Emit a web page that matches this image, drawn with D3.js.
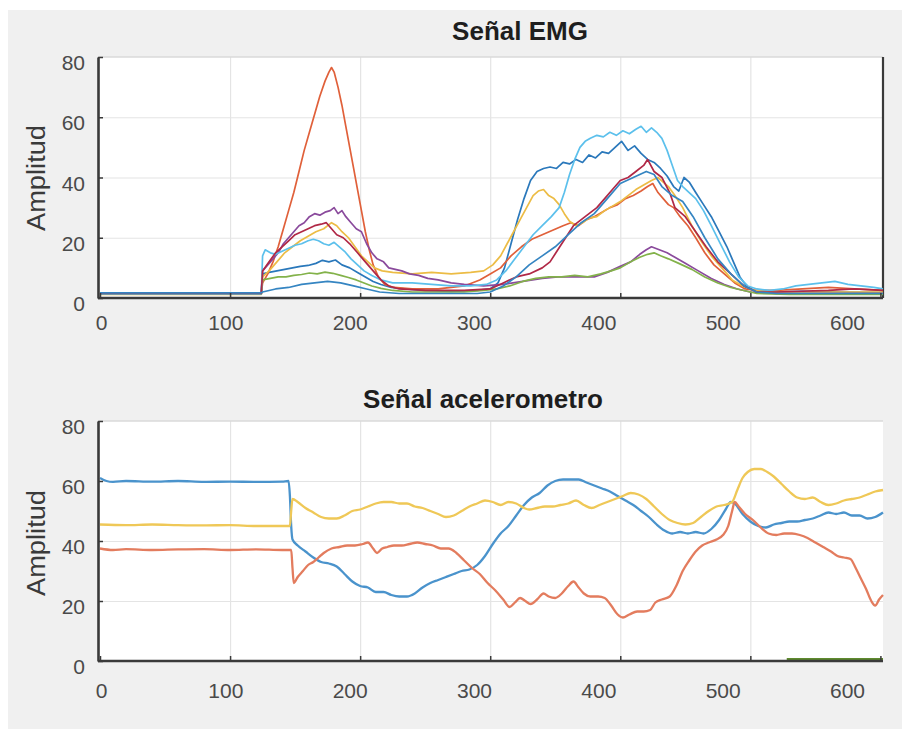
<!DOCTYPE html>
<html>
<head>
<meta charset="utf-8">
<script src="https://cdn.jsdelivr.net/npm/d3@7"></script>
<style>
  body { margin: 0; background: #fff; }
  text { font-family: "Liberation Sans", Arial, sans-serif; }
</style>
</head>
<body>
<div id="canvas"></div>
<script>
// tick values
var xTickVals = [0, 100, 200, 300, 400, 500, 600];
var yTickVals = [0, 20, 40, 60, 80];

// EMG series, [sample, amplitude]
var emgBlue1 = [[0,1.6],[124,1.6],[125,8],[130,8.5],[136,9],[142,9.5],[148,10],[154,10.5],[160,10.8],[166,11.5],[171,12.5],[176,12],[181,12.6],[186,11],[192,10],[198,8.5],[204,7],[210,5.5],[216,4.5],[224,3.5],[234,3],[250,2.5],[270,2.2],[290,2.5],[300,3],[306,5],[311,10],[316,18],[321,26],[326,33],[331,39],[336,42],[341,43],[346,43.5],[351,43],[356,45],[361,44.5],[366,46],[371,45],[376,47.5],[381,46.5],[386,48.5],[391,48],[396,50],[401,52],[406,49],[411,50.5],[416,48],[421,46],[426,45],[431,43],[436,40.5],[441,37],[445,35.5],[449,40],[453,38.5],[458,35],[464,31],[470,27],[476,22],[482,17],[487,12],[492,7],[497,4],[503,2.5],[515,2],[540,2.2],[570,2],[602,1.8]];
var emgOrange = [[0,1.4],[124,1.4],[125,5],[129,8],[133,12],[137,17],[141,23],[145,29],[149,35],[153,42],[157,49],[161,55],[165,61],[169,67],[173,72],[176,75],[178,76.5],[180,75],[183,70],[186,64],[189,57],[192,50],[195,43],[198,36],[201,29],[204,22],[207,16],[210,11],[214,7],[219,4.5],[226,3.5],[240,3],[260,3],[280,4],[292,6],[300,8],[308,10],[316,14],[324,17],[332,19.5],[340,21],[348,22.5],[356,24],[362,25],[368,24],[374,26],[380,27],[386,28.5],[392,30],[398,31],[404,33],[410,34],[416,35.5],[421,37],[425,38],[429,35],[433,33],[437,31],[441,30],[446,27],[452,24],[458,20],[465,15],[472,11],[480,8],[488,5],[496,3],[505,2.5],[520,2.5],[540,3],[560,3.5],[580,3],[602,2.5]];
var emgYellow = [[0,1.2],[124,1.2],[125,7],[130,9],[136,12],[142,15],[148,17],[154,19],[160,20.5],[166,22],[172,23],[178,25],[182,24],[186,22],[191,20],[196,17],[201,14],[206,12],[211,10],[217,9],[225,8.5],[240,8],[255,8.5],[270,8],[285,8.5],[295,9],[302,11],[308,14],[313,18],[318,22],[323,26],[328,30],[333,34],[337,35.5],[341,36],[345,34],[349,33],[353,31],[357,28],[361,25.5],[366,24],[371,25],[376,26.5],[382,27],[388,29],[394,30.5],[400,32],[406,34],[412,36],[418,37.5],[424,39],[429,40],[433,38.5],[437,37],[442,34],[448,30],[455,24],[462,19],[470,14],[478,10],[486,6],[494,4],[503,2.5],[515,2],[560,2],[602,2]];
var emgPurple = [[0,1.5],[124,1.5],[125,9],[129,11],[133,13],[137,15],[141,18],[145,20],[149,22],[153,24],[157,25],[161,27],[165,28],[169,27.5],[173,28.5],[177,29],[180,30],[183,28],[186,29],[189,27],[193,25],[197,23],[201,22],[205,18],[209,15],[213,13],[218,12],[222,10],[227,9.5],[232,9],[238,8],[245,7.5],[252,6.5],[260,6],[270,5],[280,4.5],[295,4],[310,4.5],[325,5.5],[340,6.5],[352,7],[365,7],[380,7],[390,8.5],[400,10.5],[408,12],[415,14.5],[420,16],[424,17],[430,16],[436,15],[442,13.5],[450,11.5],[460,9],[470,6.5],[480,4.5],[490,3],[500,2],[520,1.5],[560,1.5],[602,1.5]];
var emgGreen = [[0,1.3],[124,1.3],[125,6],[131,6.5],[137,7],[143,7],[149,7.5],[155,7.8],[161,8.3],[167,8],[173,8.6],[179,8.2],[185,7.5],[191,6.8],[197,6],[203,5],[209,4],[216,3.2],[225,2.5],[240,2],[260,2],[280,2],[295,2.5],[305,3],[315,4],[325,5.5],[335,6.5],[345,7],[355,7],[365,7.5],[375,7],[385,8],[393,9],[400,10],[408,12],[415,13.5],[421,14.5],[426,15],[431,14],[437,13],[445,11.5],[455,9.5],[465,7],[475,5],[485,3.5],[495,2.5],[505,1.5],[530,1.2],[602,1.2]];
var emgLightBlue = [[0,1.4],[124,1.4],[125,14],[127,16],[131,15],[135,14.5],[140,15.5],[145,16.5],[150,17.5],[155,18],[160,19],[164,19.5],[168,19],[172,18],[176,17.5],[180,18.5],[184,17],[188,15.5],[193,13],[198,11],[203,9],[209,7.5],[216,6],[225,5],[240,5],[255,4.5],[270,4],[285,4],[297,4.5],[305,6],[312,9],[319,13],[326,17],[333,21],[340,24],[347,27],[353,30],[357,35],[361,41],[365,46],[369,50],[373,52],[377,53],[382,54],[387,53.5],[392,55],[397,54],[402,55.5],[407,54.5],[412,56],[416,57],[420,55],[424,56.5],[428,55],[432,53],[436,49],[440,44],[444,39],[448,37],[453,35],[458,33],[464,29],[470,24],[477,18],[484,12],[491,7],[498,4],[505,3],[515,2.5],[525,3],[535,4],[545,4.5],[555,5],[565,5.5],[575,4.5],[585,4],[595,3.5],[602,3]];
var emgDarkRed = [[0,1.5],[124,1.5],[125,9],[130,12],[135,15],[140,17],[145,19],[150,21],[155,22],[160,23],[165,24],[170,24.5],[174,25],[178,23],[182,21],[187,20],[192,18],[198,15],[204,12],[210,9],[216,6],[222,4],[230,3],[250,2.5],[280,2.5],[300,3],[310,5],[320,7],[330,8],[340,10],[346,12],[352,16],[358,20],[364,24],[370,26],[376,28],[382,30],[388,33],[394,36],[400,39],[406,40],[412,42],[418,44],[421,46],[426,42],[432,40],[438,35],[442,30],[450,27],[458,22],[466,17],[475,12],[485,8],[495,4],[505,2],[520,2],[560,2.5],[580,3],[602,2.5]];
var emgBlue2 = [[0,1.7],[124,1.7],[125,2],[135,3],[145,3.5],[155,4.5],[165,5],[175,5.5],[185,5],[195,4],[205,3],[215,2],[230,1.5],[260,1.5],[290,1.5],[300,2],[310,4],[320,7],[330,11],[340,14],[350,17],[360,21],[370,25],[380,28],[390,33],[400,38],[410,40],[420,42],[426,41],[432,37],[440,34],[448,32],[456,27],[465,20],[475,13],[485,8],[495,4],[505,2],[520,1.5],[602,1.5]];

// accelerometer series
var accBlue = [[0,61],[5,60],[10,59.7],[20,60],[40,59.8],[60,60],[80,59.7],[100,59.8],[120,59.7],[140,59.8],[145,60],[146,55],[147,45],[148,40.5],[152,38.5],[158,36.5],[164,34.5],[170,33],[176,32.5],[182,31.5],[188,29],[194,26.5],[200,25],[206,24.5],[212,23],[218,23],[224,22],[230,21.5],[236,21.5],[242,22.5],[248,24.5],[254,26],[260,27],[266,28],[272,29],[278,30],[284,30.5],[290,32],[296,35],[302,39],[308,42.5],[314,45],[320,48.5],[326,52],[332,54.5],[338,56],[344,58.5],[350,60],[356,60.5],[362,60.5],[368,60.5],[374,59.5],[380,58.5],[386,57.5],[392,56.5],[398,55],[404,53.5],[410,52],[416,50],[422,48],[428,45.5],[434,43.5],[440,42.5],[446,43],[452,42.5],[458,43],[464,42.5],[470,44],[476,47],[481,50.5],[485,53],[488,52.5],[494,49],[500,46.5],[506,45],[512,44.5],[518,45.5],[524,46],[530,46.5],[536,46.5],[542,47],[548,47.5],[554,48.5],[560,49.5],[566,49],[572,49.5],[578,48.5],[584,48.5],[590,47.5],[596,48],[602,49.5]];
var accRed = [[0,37.5],[10,37],[20,37.3],[40,37],[60,37.2],[80,37.3],[100,37],[120,37.2],[140,37],[147,37],[148,31],[149,26],[152,28],[156,30],[160,32],[164,33],[168,34.5],[172,36],[178,37.5],[184,38],[190,38.5],[196,38.5],[202,39],[206,39.5],[210,37.5],[213,36],[217,37.5],[221,38],[226,38.5],[232,38.5],[238,39],[244,39.5],[250,39],[256,38.5],[262,37.5],[268,37.5],[274,36],[280,33.5],[286,31],[292,29],[298,26],[304,23.5],[310,20.5],[315,18],[319,19.5],[323,21],[327,20],[331,19],[336,20.5],[341,22.5],[345,21.5],[350,21],[355,22.5],[360,25],[364,26.5],[368,24.5],[372,22.5],[377,21.5],[383,21.5],[388,21],[393,18.5],[398,15.5],[402,14.5],[407,15.5],[413,16.5],[418,16.5],[423,17],[427,19.5],[432,20.5],[438,21.5],[443,25],[448,30],[453,33.5],[458,36.5],[463,38.5],[468,39.5],[474,40.5],[479,42],[483,45],[486,50],[488,53],[491,51.5],[496,49],[502,47],[508,44.5],[514,42.5],[520,42],[526,42.5],[532,42.5],[538,42],[544,41],[550,39.5],[556,38],[562,36.5],[567,35],[572,34.5],[577,34],[581,31],[585,27.5],[589,24],[593,20],[596,18.5],[599,20.5],[602,22]];
var accYellow = [[0,45.5],[20,45.3],[40,45.5],[60,45.3],[80,45.2],[100,45.3],[120,45],[140,45],[146,45],[147,50],[148,54],[152,53],[158,51],[164,49.5],[170,48],[176,47.5],[182,47.5],[188,48.5],[194,50],[200,50.5],[206,51.5],[212,52.5],[218,53],[224,53],[230,52.5],[236,52.5],[242,51.5],[248,51],[254,50],[260,49],[266,48],[272,48.5],[278,50],[284,51.5],[290,52.5],[296,53.5],[302,53],[308,52],[314,53],[320,52.5],[326,51],[330,50.5],[336,51],[342,51.5],[348,51.5],[354,52],[360,52.5],[366,53.5],[372,52],[378,51],[384,52],[390,53],[396,54],[402,55],[408,56],[414,55.5],[420,54],[426,51.5],[432,49],[438,47],[444,46],[450,45.5],[456,46],[462,48],[468,50],[474,51.5],[480,52],[486,53],[490,57],[494,61],[498,63],[503,64],[508,64],[513,63],[518,61.5],[524,59],[530,56.5],[536,54.5],[542,54],[548,54.5],[554,53],[560,52],[566,52.5],[572,53.5],[578,54],[584,54.5],[590,55.5],[596,56.5],[602,57]];
var accGreen = [[528,0.4],[602,0.4]];

var width = 902, height = 729;

var svg = d3.select("#canvas")
    .append("svg")
    .attr("width", width)
    .attr("height", height);

// figure background
svg.append("rect")
    .attr("x", 8).attr("y", 10)
    .attr("width", width - 8).attr("height", height - 10)
    .attr("fill", "#f0f0f0");

function drawPanel(p) {
    var left = 99, right = 883;

    // the grid and the tick labels do not line up in the original picture
    var x = d3.scaleLinear().domain([0, 602]).range([100, 883]);
    var xLab = d3.scaleLinear().domain([0, 600]).range([101, 847]);
    var y = d3.scaleLinear().domain([0, 80]).range([p.bottom, p.top]);

    svg.append("rect")
        .attr("x", left).attr("y", p.top)
        .attr("width", right - left).attr("height", p.bottom - p.top)
        .attr("fill", "#fff");

    // grid
    var gx = svg.append("g")
        .attr("transform", "translate(0," + p.bottom + ")")
        .call(d3.axisBottom(x).tickValues([100, 200, 300, 400, 500]).tickSize(-(p.bottom - p.top)).tickFormat(""));
    gx.select(".domain").remove();
    gx.selectAll("line").attr("stroke", "#e4e4e4").attr("stroke-width", 1.2);

    var gy = svg.append("g")
        .attr("transform", "translate(" + left + ",0)")
        .call(d3.axisLeft(y).tickValues([20, 40, 60]).tickSize(-(right - left)).tickFormat(""));
    gy.select(".domain").remove();
    gy.selectAll("line").attr("stroke", "#e4e4e4").attr("stroke-width", 1.2);

    // top border
    svg.append("line")
        .attr("x1", left).attr("x2", right)
        .attr("y1", p.top).attr("y2", p.top)
        .attr("stroke", "#dadada").attr("stroke-width", 1.5);
    if (p.rightBox) {
        svg.append("line")
            .attr("x1", right).attr("x2", right)
            .attr("y1", p.top).attr("y2", p.bottom)
            .attr("stroke", "#3a3a3a").attr("stroke-width", 2.2);
    }

    // lines
    var line = d3.line()
        .x(function(d) { return x(d[0]); })
        .y(function(d) { return y(d[1]); })
        .curve(p.curve);

    p.series.forEach(function(s) {
        svg.append("path")
            .datum(s.data)
            .attr("d", line)
            .attr("fill", "none")
            .attr("stroke", s.color)
            .attr("stroke-width", s.w || p.lineWidth)
            .attr("stroke-linejoin", "round");
    });

    // axes
    var ax = svg.append("g")
        .attr("transform", "translate(0," + p.bottom + ")")
        .call(d3.axisBottom(x).tickValues(xTickVals).tickSizeInner(-5).tickSizeOuter(0).tickFormat(""));
    ax.select(".domain").attr("d", "M" + (left - 1) + ",0H" + right)
        .attr("stroke", "#3a3a3a").attr("stroke-width", 2.6);
    ax.selectAll("line").attr("stroke", "#3a3a3a").attr("stroke-width", 1.5);

    var ay = svg.append("g")
        .attr("transform", "translate(" + (left - 1) + ",0)")
        .call(d3.axisLeft(y).tickValues(yTickVals).tickSizeInner(-5).tickSizeOuter(0).tickFormat(""));
    ay.select(".domain").attr("stroke", "#3a3a3a").attr("stroke-width", 2.6);
    ay.selectAll("line").attr("stroke", "#3a3a3a").attr("stroke-width", 1.5);

    // tick labels
    var lx = svg.append("g")
        .attr("transform", "translate(0," + p.bottom + ")")
        .call(d3.axisBottom(xLab).tickValues(xTickVals).tickSize(0).tickPadding(p.xPad));
    lx.select(".domain").remove();
    lx.selectAll("text")
        .attr("font-size", 21)
        .attr("font-family", "Liberation Sans, Arial, sans-serif")
        .attr("fill", "#4a4a4a");

    var ly = svg.append("g")
        .attr("transform", "translate(" + left + ",0)")
        .call(d3.axisLeft(y).tickValues(yTickVals).tickSize(0).tickPadding(14));
    ly.select(".domain").remove();
    ly.selectAll("text")
        .attr("font-size", 21)
        .attr("font-family", "Liberation Sans, Arial, sans-serif")
        .attr("fill", "#4a4a4a")
        .attr("dy", "0.6em");

    // title
    svg.append("text")
        .attr("x", p.titleX).attr("y", p.titleY)
        .attr("text-anchor", "middle")
        .attr("font-size", 26)
        .attr("font-weight", "bold")
        .attr("fill", "#1e1e1e")
        .text(p.title);

    // y label
    svg.append("text")
        .attr("transform", "translate(45," + p.labelY + ") rotate(-90)")
        .attr("text-anchor", "middle")
        .attr("font-size", 25)
        .attr("textLength", 106)
        .attr("lengthAdjust", "spacingAndGlyphs")
        .attr("fill", "#3a3a3a")
        .text("Amplitud");
}

drawPanel({
    top: 57, bottom: 298,
    title: "Señal EMG", titleX: 520, titleY: 40,
    labelY: 178, xPad: 17, rightBox: true,
    lineWidth: 1.7, curve: d3.curveLinear,
    series: [
        { data: emgBlue1, color: "#2a78bb" },
        { data: emgOrange, color: "#e0603a" },
        { data: emgYellow, color: "#ecbc45" },
        { data: emgPurple, color: "#8a4a9c" },
        { data: emgGreen, color: "#83b24a" },
        { data: emgLightBlue, color: "#5cc0ec" },
        { data: emgDarkRed, color: "#b02846" },
        { data: emgBlue2, color: "#3585c2" }
    ]
});

drawPanel({
    top: 421, bottom: 661,
    title: "Señal acelerometro", titleX: 483, titleY: 408,
    labelY: 543, xPad: 22, rightBox: false,
    lineWidth: 2.3, curve: d3.curveMonotoneX,
    series: [
        { data: accBlue, color: "#4a93cc" },
        { data: accRed, color: "#e37c5e" },
        { data: accYellow, color: "#efc857" },
        { data: accGreen, color: "#5e8a2e", w: 3.5 }
    ]
});
</script>
</body>
</html>
